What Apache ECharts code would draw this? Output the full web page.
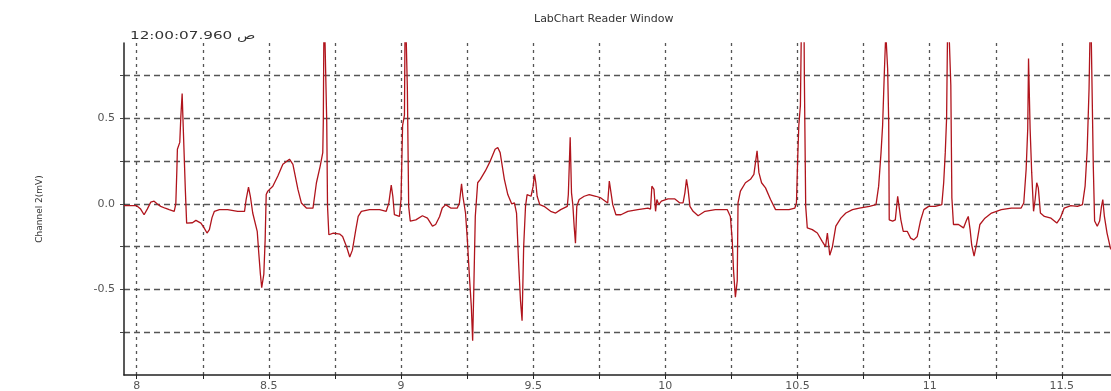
<!DOCTYPE html>
<html>
<head>
<meta charset="utf-8">
<title>LabChart Reader Window</title>
<script src="https://cdn.jsdelivr.net/npm/echarts@6/dist/echarts.min.js"></script>
<style>
  html, body { margin: 0; padding: 0; background: #fff; }
  #chart { width: 1111px; height: 391px; }
</style>
</head>
<body>
<div id="chart"></div>
<script>
// Channel 2 ECG trace: time (s) and amplitude (mV), sampled at the turning points.
const timeSec = [
  7.952, 7.958, 8.0, 8.015, 8.028, 8.04, 8.053, 8.066, 8.078, 8.091, 8.108, 8.123, 8.142, 8.148, 8.152,
  8.154, 8.163, 8.167, 8.172, 8.175, 8.18, 8.184, 8.189, 8.211, 8.224, 8.243, 8.255, 8.266, 8.275, 8.285,
  8.294, 8.313, 8.344, 8.382, 8.408, 8.414, 8.423, 8.43, 8.439, 8.456, 8.462, 8.468, 8.473, 8.481, 8.486,
  8.49, 8.496, 8.515, 8.534, 8.553, 8.578, 8.591, 8.61, 8.623, 8.642, 8.667, 8.673, 8.68, 8.694, 8.704,
  8.706, 8.709, 8.716, 8.719, 8.722, 8.727, 8.744, 8.769, 8.779, 8.794, 8.806, 8.816, 8.829, 8.838, 8.85,
  8.881, 8.919, 8.944, 8.954, 8.963, 8.969, 8.975, 8.994, 9.0, 9.006, 9.013, 9.016, 9.021, 9.024, 9.029,
  9.035, 9.056, 9.081, 9.1, 9.119, 9.131, 9.146, 9.156, 9.169, 9.188, 9.213, 9.221, 9.229, 9.234, 9.244,
  9.251, 9.259, 9.266, 9.271, 9.275, 9.281, 9.29, 9.3, 9.319, 9.338, 9.356, 9.366, 9.375, 9.391, 9.404,
  9.419, 9.429, 9.437, 9.445, 9.452, 9.458, 9.464, 9.471, 9.477, 9.492, 9.5, 9.505, 9.51, 9.515, 9.525,
  9.541, 9.566, 9.585, 9.604, 9.629, 9.633, 9.64, 9.645, 9.65, 9.655, 9.66, 9.665, 9.674, 9.693, 9.712,
  9.737, 9.756, 9.782, 9.788, 9.794, 9.801, 9.813, 9.832, 9.858, 9.896, 9.934, 9.944, 9.949, 9.957, 9.963,
  9.968, 9.975, 9.985, 10.01, 10.035, 10.055, 10.067, 10.074, 10.08, 10.086, 10.093, 10.105, 10.124, 10.15, 10.189,
  10.234, 10.246, 10.253, 10.258, 10.265, 10.272, 10.275, 10.284, 10.303, 10.322, 10.335, 10.341, 10.347, 10.354, 10.364,
  10.379, 10.398, 10.417, 10.442, 10.468, 10.49, 10.496, 10.501, 10.505, 10.511, 10.516, 10.524, 10.526, 10.531, 10.537,
  10.556, 10.575, 10.594, 10.606, 10.613, 10.622, 10.632, 10.645, 10.664, 10.683, 10.708, 10.734, 10.772, 10.797, 10.807,
  10.816, 10.822, 10.829, 10.834, 10.841, 10.845, 10.847, 10.86, 10.87, 10.879, 10.885, 10.891, 10.9, 10.915, 10.928,
  10.94, 10.953, 10.965, 10.978, 10.996, 11.021, 11.046, 11.053, 11.059, 11.064, 11.069, 11.075, 11.08, 11.084, 11.09,
  11.109, 11.128, 11.14, 11.146, 11.153, 11.159, 11.168, 11.178, 11.19, 11.209, 11.234, 11.271, 11.309, 11.346, 11.356,
  11.365, 11.371, 11.374, 11.378, 11.38, 11.386, 11.393, 11.399, 11.405, 11.411, 11.419, 11.434, 11.459, 11.481, 11.494,
  11.509, 11.534, 11.559, 11.578, 11.588, 11.596, 11.603, 11.609, 11.615, 11.619, 11.624, 11.634, 11.643, 11.65, 11.655,
  11.661, 11.671, 11.684, 11.7
];
const channel2mV = [
  -0.01, -0.014, -0.01, -0.03, -0.063, -0.03, 0.01, 0.016, 0.0, -0.014, -0.025, -0.033, -0.043, 0.0, 0.2,
  0.32, 0.36, 0.51, 0.646, 0.5, 0.49, 0.085, -0.112, -0.11, -0.096, -0.112, -0.14, -0.17, -0.15, -0.08,
  -0.043, -0.033, -0.033, -0.043, -0.043, 0.026, 0.098, 0.045, -0.053, -0.16, -0.29, -0.41, -0.49, -0.41, -0.21,
  0.055, 0.075, 0.104, 0.163, 0.232, 0.262, 0.232, 0.085, 0.006, -0.024, -0.024, -0.033, 0.124, 0.22, 0.3,
  0.48, 1.2, 1.2, 0.48, -0.014, -0.18, -0.17, -0.177, -0.19, -0.25, -0.31, -0.27, -0.15, -0.073, -0.043,
  -0.033, -0.033, -0.043, 0.006, 0.11, 0.045, -0.063, -0.073, 0.026, 0.46, 0.52, 1.2, 1.2, 0.675, -0.014,
  -0.1, -0.093, -0.069, -0.083, -0.13, -0.12, -0.073, -0.024, -0.004, -0.024, -0.024, 0.006, 0.118, 0.045, -0.053,
  -0.21, -0.43, -0.6, -0.8, -0.525, -0.073, 0.124, 0.144, 0.193, 0.252, 0.32, 0.33, 0.3, 0.144, 0.055,
  0.0, 0.006, -0.053, -0.35, -0.565, -0.683, -0.25, -0.014, 0.055, 0.045, 0.104, 0.173, 0.124, 0.045, -0.004,
  -0.014, -0.043, -0.053, -0.033, -0.014, 0.055, 0.39, 0.065, -0.004, -0.13, -0.23, -0.014, 0.026, 0.045, 0.055,
  0.045, 0.035, 0.006, 0.134, 0.134, -0.004, -0.063, -0.063, -0.043, -0.033, -0.024, -0.03, 0.104, 0.085, -0.043,
  0.026, -0.004, 0.016, 0.03, 0.03, 0.006, 0.006, 0.065, 0.144, 0.085, -0.014, -0.043, -0.069, -0.043, -0.033,
  -0.033, -0.073, -0.21, -0.39, -0.545, -0.45, 0.006, 0.075, 0.124, 0.144, 0.173, 0.242, 0.31, 0.183, 0.124,
  0.094, 0.026, -0.033, -0.033, -0.033, -0.024, 0.006, 0.28, 0.46, 0.577, 1.2, 1.2, 0.73, -0.014, -0.14,
  -0.15, -0.17, -0.22, -0.25, -0.17, -0.3, -0.25, -0.13, -0.083, -0.053, -0.033, -0.024, -0.014, -0.004, 0.104,
  0.3, 0.46, 0.79, 1.0, 0.79, 0.48, -0.093, -0.1, -0.093, 0.045, 0.055, -0.093, -0.16, -0.16, -0.2,
  -0.21, -0.19, -0.1, -0.033, -0.014, -0.014, -0.004, 0.124, 0.3, 0.5, 1.2, 1.2, 0.695, 0.035, -0.12,
  -0.12, -0.14, -0.093, -0.073, -0.15, -0.24, -0.305, -0.23, -0.12, -0.083, -0.053, -0.033, -0.024, -0.024, 0.006,
  0.203, 0.44, 0.85, 0.85, 0.44, 0.183, -0.043, 0.026, 0.124, 0.094, -0.053, -0.073, -0.083, -0.112, -0.083,
  -0.024, -0.01, -0.014, -0.004, 0.104, 0.32, 0.675, 1.2, 1.2, 0.222, -0.1, -0.13, -0.1, -0.014, 0.026,
  -0.073, -0.17, -0.26, -0.29
];

// Axis ticks and labels
const xTickValues = [8, 8.25, 8.5, 8.75, 9, 9.25, 9.5, 9.75, 10, 10.25, 10.5, 10.75, 11, 11.25, 11.5];
const xLabelValues = [8, 8.5, 9, 9.5, 10, 10.5, 11, 11.5];
const yTickValues = [-0.75, -0.5, -0.25, 0, 0.25, 0.5, 0.75];
const yLabelValues = [-0.5, 0, 0.5];

const chartTitle = 'LabChart Reader Window';
const startStamp = '12:00:07.960 ص';
const yAxisTitle = 'Channel 2(mV)';

const chart = echarts.init(document.getElementById('chart'), null, { renderer: 'canvas' });

const tracePoints = timeSec.map((t, i) => [t, channel2mV[i]]);
const textFont = 'DejaVu Sans, Verdana, sans-serif';

chart.setOption({
  animation: false,
  backgroundColor: '#ffffff',
  title: {
    text: chartTitle,
    left: 529,
    top: 9,
    textStyle: { fontFamily: textFont, fontSize: 11, fontWeight: 'normal', color: '#333' }
  },
  graphic: [{
    type: 'text',
    x: 130,
    y: 31,
    scaleX: 1.45,
    style: { text: startStamp, font: '10.5px ' + textFont, fill: '#333', textVerticalAlign: 'top' }
  }],
  grid: {
    left: 124, right: 0, top: 43, bottom: 16,
    outerBoundsMode: 'none'
  },
  xAxis: {
    type: 'value',
    min: 7.952,
    max: 11.686,
    axisLine: { show: true, onZero: false, lineStyle: { color: '#222', width: 1.5 } },
    axisTick: { show: true, length: 4, customValues: xTickValues, lineStyle: { color: '#222' } },
    axisLabel: {
      customValues: xLabelValues,
      margin: 6,
      fontFamily: textFont,
      fontSize: 11,
      color: '#555',
      formatter: v => String(v)
    },
    splitLine: { show: true, lineStyle: { color: '#555', type: [3, 4], width: 1.3 } }
  },
  yAxis: {
    type: 'value',
    min: -1.0,
    max: 0.941,
    name: yAxisTitle,
    nameLocation: 'middle',
    nameRotate: 90,
    nameGap: 80,
    nameTextStyle: { fontFamily: textFont, fontSize: 9, color: '#333' },
    axisLine: { show: true, onZero: false, lineStyle: { color: '#222', width: 1.5 } },
    axisTick: { show: true, length: 4, customValues: yTickValues, lineStyle: { color: '#444' } },
    axisLabel: {
      customValues: yLabelValues,
      margin: 9,
      fontFamily: textFont,
      fontSize: 11,
      color: '#555',
      formatter: v => v.toFixed(1)
    },
    splitLine: { show: true, lineStyle: { color: '#555', type: [6, 4], width: 1.3 } }
  },
  series: [{
    type: 'line',
    data: tracePoints,
    showSymbol: false,
    clip: true,
    lineStyle: { color: '#b0141c', width: 1.3 },
    emphasis: { disabled: true }
  }]
});
</script>
</body>
</html>
